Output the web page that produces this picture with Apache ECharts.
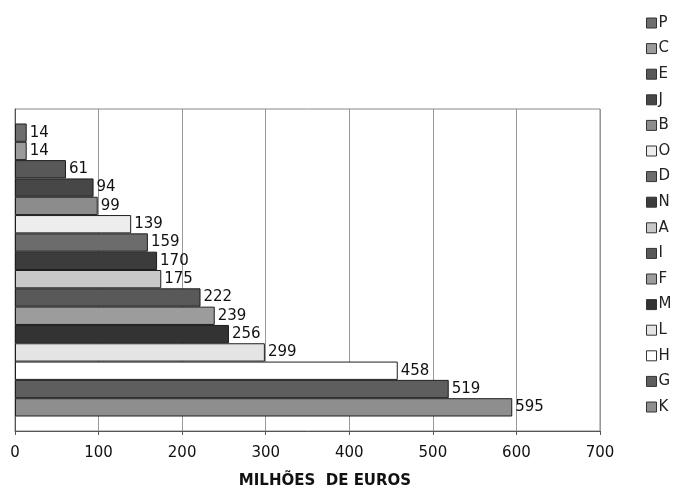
<!DOCTYPE html>
<html>
<head>
<meta charset="utf-8">
<script src="https://cdn.jsdelivr.net/npm/echarts@6/dist/echarts.min.js"></script>
<style>html,body{margin:0;padding:0;background:#fff}#c{width:675px;height:488px}</style>
</head>
<body>
<div id="c"></div>
<script>
const names = ['P','C','E','J','B','O','D','N','A','I','F','M','L','H','G','K'];
const values = [14,14,61,94,99,139,159,170,175,222,239,256,299,458,519,595];
const colors = ['#6e6e6e','#9a9a9a','#585858','#474747','#8c8c8c','#ededed','#6c6c6c','#3c3c3c','#c8c8c8','#595959','#9c9c9c','#333333','#e4e4e4','#ffffff','#5e5e5e','#8e8e8e'];
const xTicks = [0,100,200,300,400,500,600,700];
const axisTitle = 'MILHÕES  DE EUROS';

const FONT = 'DejaVu Sans';
const chart = echarts.init(document.getElementById('c'), null, {renderer:'canvas'});
const series = names.map((n,i)=>({
  name:n, type:'bar', data:[values[i]],
  barGap:'0%', barCategoryGap:'9%',
  itemStyle:{color:colors[i], borderColor:'#1e1e1e', borderWidth:1},
  label:{show:true, position:'right', distance:3, color:'#111', fontFamily:FONT, fontSize:15},
  animation:false
}));
chart.setOption({
  animation:false,
  color:colors,
  grid:{left:15, right:75, top:109, bottom:57, show:true, borderColor:'#888', borderWidth:1},
  title:{text:axisTitle, left:320, top:469, textAlign:'center',
    textStyle:{fontFamily:FONT, fontSize:15, fontWeight:'bold', color:'#111'}},
  legend:{orient:'vertical', left:641, top:10, itemWidth:10, itemHeight:10, itemGap:9.6,
    icon:'rect', data:names,
    itemStyle:{borderColor:'#333', borderWidth:1},
    textStyle:{fontFamily:FONT, fontSize:15, color:'#222', padding:[0,0,0,-3], lineHeight:16}},
  xAxis:{type:'value', min:xTicks[0], max:xTicks[xTicks.length-1], interval:100,
    axisLine:{show:true, lineStyle:{color:'#555'}},
    axisTick:{show:true, length:4, lineStyle:{color:'#555'}},
    axisLabel:{fontFamily:FONT, fontSize:15, color:'#111', margin:15},
    splitLine:{show:true, lineStyle:{color:'#999', width:1}}},
  yAxis:{type:'category', data:[''], inverse:true,
    axisLine:{show:true, lineStyle:{color:'#555'}},
    axisTick:{show:false}, axisLabel:{show:false}},
  series:series
});
</script>
</body>
</html>
